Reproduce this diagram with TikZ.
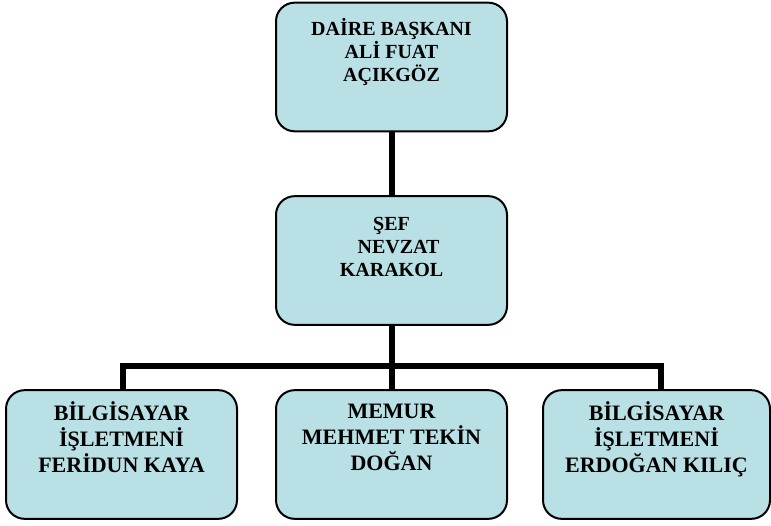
\documentclass[tikz,border=0pt]{standalone}
\usepackage{fontspec}
\setmainfont{Liberation Serif}
\definecolor{kutuRenk}{RGB}{185,224,228}

\begin{document}
\begin{tikzpicture}[x=0.75pt,y=0.75pt,yscale=-1,xscale=1,
	kutu/.style={draw=black, line width=1.5pt, fill=kutuRenk, rounded corners=14pt, minimum width=173.25pt, minimum height=96.5pt, inner sep=0pt},
	yazi/.style={anchor=north, inner sep=0pt, align=center, font=\bfseries\fontsize{15}{17.25}\selectfont},
	altYazi/.style={yazi, font=\bfseries\fontsize{16.5}{19.5}\selectfont},
	hat/.style={line width=4.5pt}]
	%set diagram left start at 0, and has height of 525
	\useasboundingbox (0,0) rectangle (771,525);
	
	%Rounded Rect [id:daire]
	\node[kutu] (daire) at (391.5,67) {};
	%Rounded Rect [id:sef]
	\node[kutu] (sef) at (391.5,260.5) {};
	%Rounded Rect [id:feridun]
	\node[kutu] (feridun) at (121.5,454.5) {};
	%Rounded Rect [id:memur]
	\node[kutu] (memur) at (391.5,454.5) {};
	%Rounded Rect [id:erdogan]
	\node[kutu, minimum width=170.25pt] (erdogan) at (656.5,454.5) {};
	
	%Straight Lines [id:daire-sef]
	\draw[hat] (daire) -- (sef);
	%Straight Lines [id:sef-memur]
	\draw[hat] (sef.south) -- (memur.north);
	%Straight Lines [id:bar]
	\coordinate (bar) at (391.5,366);
	\draw[hat] ([xshift=1pt]feridun.north) |- (bar) -| ([xshift=3pt]erdogan.north);
	
	% Text Node (yshift is flipped by yscale=-1)
	\node[yazi] (daireYazi) at ([yshift=12.5pt]daire.north) {DAİRE BAŞKANI\\ALİ FUAT\\AÇIKGÖZ};
	% Text Node
	\node[yazi] (sefYazi) at ([yshift=16.5pt]sef.north) {ŞEF\\\hspace*{0.7em}NEVZAT\\KARAKOL};
	% Text Node
	\node[altYazi] (feridunYazi) at ([yshift=9.2pt]feridun.north) {BİLGİSAYAR\\İŞLETMENİ\\FERİDUN KAYA};
	% Text Node
	\node[altYazi] (memurYazi) at ([yshift=11.25pt]memur.north) {MEMUR\\MEHMET TEKİN\\DOĞAN};
	% Text Node
	\node[altYazi] (erdoganYazi) at ([yshift=9.2pt]erdogan.north) {BİLGİSAYAR\\İŞLETMENİ\\ERDOĞAN KILIÇ};
	
\end{tikzpicture}
\end{document}
